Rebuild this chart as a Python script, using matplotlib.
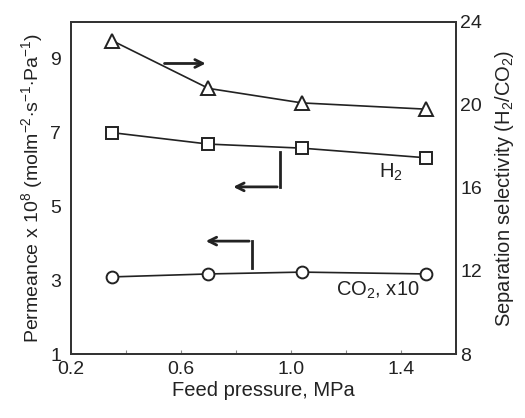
import matplotlib.pyplot as plt  # For creating the figure
import numpy as np  # For numeric arrays

# Font similar to Arial
plt.rcParams['font.family'] = ['Liberation Sans', 'DejaVu Sans']
plt.rcParams['mathtext.fontset'] = 'custom'
plt.rcParams['mathtext.rm'] = 'Liberation Sans'
plt.rcParams['mathtext.it'] = 'Liberation Sans'

# Data
pressure = [0.35, 0.70, 1.04, 1.49]           # Feed pressure, MPa
h2_perm = [7.0, 6.69, 6.58, 6.32]             # H2 permeance x 1e8
co2_perm = [3.09, 3.17, 3.22, 3.17]           # CO2 permeance x 1e9 (x10)
selectivity = [23.1, 20.8, 20.1, 19.8]        # H2/CO2 separation selectivity

x_ticks = [0.2, 0.6, 1.0, 1.4]
x_minor = [0.4, 0.8, 1.2, 1.6]
left_ticks = [1, 3, 5, 7, 9]
right_ticks = [8, 12, 16, 20, 24]

ink = '#222222'

fig = plt.figure(figsize=(5.25, 4.18), dpi=100)
ax = fig.add_axes([0.1352, 0.1531, 0.7333, 0.7943])
ax2 = ax.twinx()

# Permeance lines (left axis)
ax.plot(pressure, h2_perm, color=ink, lw=1.2, marker='s', ms=8.5,
        mfc='white', mec=ink, mew=1.4)
ax.plot(pressure, co2_perm, color=ink, lw=1.2, marker='o', ms=8.5,
        mfc='white', mec=ink, mew=1.4)

# Selectivity line (right axis)
ax2.plot(pressure, selectivity, color=ink, lw=1.2, marker='^', ms=10,
         mfc='white', mec=ink, mew=1.4)

ax.set_xlim(0.2, 1.6)
ax.set_ylim(1, 10)
ax2.set_ylim(8, 24)

ax.set_xticks(x_ticks)
ax.set_xticklabels(['0.2', '0.6', '1.0', '1.4'])
ax.set_xticks(x_minor, minor=True)
ax.set_yticks(left_ticks)
ax2.set_yticks(right_ticks)

ax.tick_params(axis='x', which='both', direction='in', length=3, width=0.8,
               color='#888888', labelsize=14, labelcolor=ink, pad=5)
ax.tick_params(axis='y', length=0, labelsize=14, labelcolor=ink, pad=7)
ax2.tick_params(axis='y', length=0, labelsize=14, labelcolor=ink, pad=3)

for a in (ax, ax2):
    for s in a.spines.values():
        s.set_color('#333333')
        s.set_linewidth(1.3)

ax.set_xlabel('Feed pressure, MPa', fontsize=14.5, color=ink, labelpad=2)
ax.set_ylabel(r'Permeance x 10$^{8}$ (molm$^{-2}$$\cdot$s$^{-1}$$\cdot$Pa$^{-1}$)',
              fontsize=14, color=ink, labelpad=4)
ax2.set_ylabel(r'Separation selectivity (H$_{2}$/CO$_{2}$)', fontsize=14.5,
               color=ink, labelpad=8)

# Series labels
ax.text(1.32, 5.93, r'H$_{2}$', fontsize=14.5, color=ink, ha='left', va='center')
ax.text(1.317, 2.73, r'CO$_{2}$, x10', fontsize=14.5, color=ink, ha='center', va='center')

# Arrows pointing to the axis each series belongs to
arrow_style = dict(arrowstyle='->', color=ink, lw=2, mutation_scale=14)
ax2.annotate('', xy=(0.70, 22.0), xytext=(0.53, 22.0), arrowprops=arrow_style)

ax.plot([0.96, 0.96], [6.47, 5.53], color=ink, lw=2)
ax.annotate('', xy=(0.78, 5.53), xytext=(0.96, 5.53), arrowprops=arrow_style)

ax.plot([0.858, 0.858], [3.33, 4.06], color=ink, lw=2)
ax.annotate('', xy=(0.68, 4.06), xytext=(0.858, 4.06), arrowprops=arrow_style)

plt.savefig('out.png', dpi=100)
